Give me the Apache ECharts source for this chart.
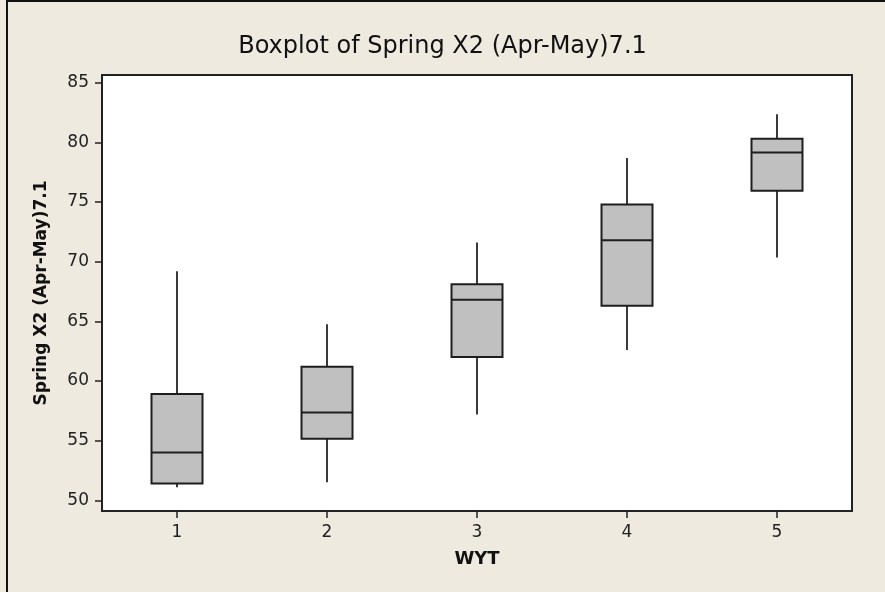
<!DOCTYPE html>
<html>
<head>
<meta charset="utf-8">
<script src="https://cdn.jsdelivr.net/npm/echarts@6/dist/echarts.min.js"></script>
<style>
html,body{margin:0;padding:0;background:#EEEAE0;}
#c{width:885px;height:592px;}
</style>
</head>
<body>
<div id="c"></div>
<script>
var categories = ['1', '2', '3', '4', '5'];
var whiskerLow  = [51.1, 51.5, 57.2, 62.6, 70.35];
var q1          = [51.4, 55.15, 62.0, 66.3, 75.95];
var median      = [54.0, 57.35, 66.8, 71.8, 79.15];
var q3          = [58.9, 61.2, 68.1, 74.8, 80.3];
var whiskerHigh = [69.2, 64.75, 71.6, 78.7, 82.35];
var yTicks = [50, 55, 60, 65, 70, 75, 80, 85];

var rows = categories.map(function (c, i) {
  return [i, whiskerLow[i], q1[i], median[i], q3[i], whiskerHigh[i]];
});

var chart = echarts.init(document.getElementById('c'), null, {renderer: 'canvas'});
var FONT = 'DejaVu Sans';
chart.setOption({
  backgroundColor: '#EEEAE0',
  animation: false,
  title: {
    text: 'Boxplot of Spring X2 (Apr-May)7.1',
    left: 'center',
    top: 35,
    padding: [0, 0, 0, 20],
    textStyle: {fontFamily: FONT, fontSize: 24, fontWeight: 'normal', color: '#111'}
  },
  graphic: [
    {type: 'line', shape: {x1: 7, y1: 0, x2: 7, y2: 592}, style: {stroke: '#111', lineWidth: 2}},
    {type: 'line', shape: {x1: 6, y1: 1, x2: 885, y2: 1}, style: {stroke: '#111', lineWidth: 2}}
  ],
  grid: {
    left: 102, top: 75, right: 33, bottom: 81,
    show: true, backgroundColor: '#ffffff', borderColor: '#222', borderWidth: 2
  },
  xAxis: {
    type: 'category',
    data: categories,
    boundaryGap: true,
    name: 'WYT',
    nameLocation: 'middle',
    nameGap: 39,
    nameTextStyle: {fontFamily: FONT, fontSize: 18, fontWeight: 'bold', color: '#111', verticalAlign: 'top'},
    axisLine: {show: true, lineStyle: {color: '#222', width: 2}},
    axisTick: {show: true, alignWithLabel: true, length: 7, lineStyle: {color: '#222', width: 1.5}},
    axisLabel: {fontFamily: FONT, fontSize: 17, color: '#222', margin: 13},
    splitLine: {show: false}
  },
  yAxis: {
    type: 'value',
    min: 49.1,
    max: 85.65,
    name: 'Spring X2 (Apr-May)7.1',
    nameLocation: 'middle',
    nameRotate: 90,
    nameGap: 52,
    nameTextStyle: {fontFamily: FONT, fontSize: 17, fontWeight: 'bold', color: '#111'},
    axisLine: {show: true, lineStyle: {color: '#222', width: 2}},
    axisTick: {show: true, length: 7, customValues: yTicks, lineStyle: {color: '#222', width: 1.5}},
    axisLabel: {fontFamily: FONT, fontSize: 17, color: '#222', margin: 13, customValues: yTicks},
    splitLine: {show: false}
  },
  series: [{
    type: 'custom',
    data: rows,
    encode: {x: 0, y: [1, 2, 3, 4, 5]},
    renderItem: function (params, api) {
      var x = api.value(0);
      var lo = api.coord([x, api.value(1)]);
      var b1 = api.coord([x, api.value(2)]);
      var md = api.coord([x, api.value(3)]);
      var b3 = api.coord([x, api.value(4)]);
      var hi = api.coord([x, api.value(5)]);
      var w = api.size([1, 0])[0] * 0.34;
      var cx = Math.round(lo[0]);
      var edge = '#1e1e1e';
      return {
        type: 'group',
        children: [
          {type: 'line', shape: {x1: cx, y1: hi[1], x2: cx, y2: b3[1]}, style: {stroke: '#3a3a3a', lineWidth: 2}},
          {type: 'line', shape: {x1: cx, y1: b1[1], x2: cx, y2: lo[1]}, style: {stroke: '#3a3a3a', lineWidth: 2}},
          {type: 'rect', shape: {x: cx - w / 2, y: b3[1], width: w, height: b1[1] - b3[1]}, style: {fill: '#C0C0C0', stroke: edge, lineWidth: 2}},
          {type: 'line', shape: {x1: cx - w / 2, y1: md[1], x2: cx + w / 2, y2: md[1]}, style: {stroke: edge, lineWidth: 2}}
        ]
      };
    }
  }]
});
</script>
</body>
</html>
